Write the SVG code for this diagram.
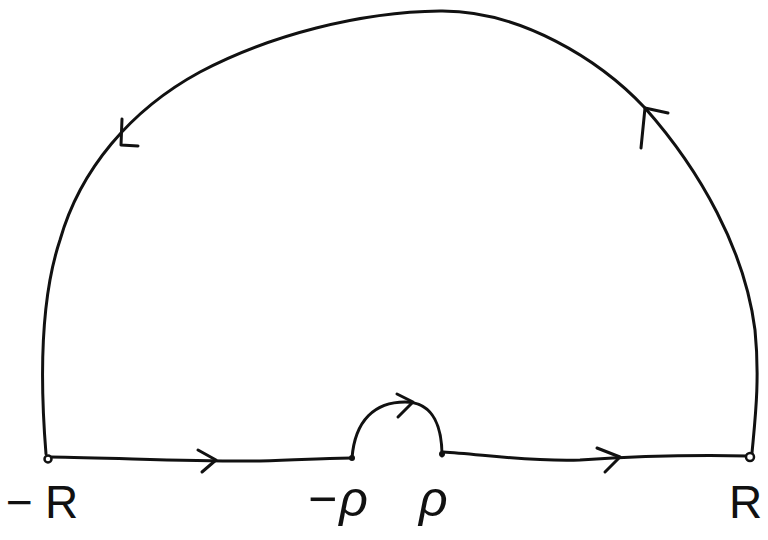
<svg xmlns="http://www.w3.org/2000/svg" width="768" height="540" viewBox="0 0 768 540">
<style>
.c{fill:none;stroke:#111;stroke-width:3;stroke-linecap:round;stroke-linejoin:round}
.a{fill:none;stroke:#111;stroke-width:3;stroke-linecap:round;stroke-linejoin:round}
.lbl{font-family:"Liberation Sans",Arial,sans-serif;fill:#111}
.dot{fill:#111}
.ring{fill:#fff;stroke:#111;stroke-width:2.5}
</style>
<rect width="768" height="540" fill="#fff"/>
<g id="connectors">
<path class="c" d="M50,457 C120,458 200,462 260,461 C300,460 330,458 352,458"/>
<polyline class="a" points="198,450 216,460 202,472"/>
<path class="c" d="M352,458 C355,420 375,402 405,402 C435,402 442,430 442,456"/>
<polyline class="a" points="397,394 413,402 398,417"/>
<path class="c" d="M443,452 C480,454 530,462 580,460 C640,456 700,455 748,456"/>
<polyline class="a" points="597,448 620,457 605,472"/>
<path class="c" d="M752,453 C755,420 760,380 755,330 C745,250 700,170 645,108 C600,60 520,10 440,11 C360,12 270,35 200,72 C130,110 80,170 60,240 C40,300 40,380 46,454"/>
<polyline class="a" points="668,113 645,108 641,148"/>
<polyline class="a" points="122,119 121,145 138,146"/>
</g>
<g id="node-minus-R">
<circle class="ring" cx="48" cy="459" r="3.5"/>
<text class="lbl" x="6" y="518" font-size="46">−<tspan dx="12">R</tspan></text>
</g>
<g id="node-minus-rho">
<circle class="dot" cx="352" cy="458" r="3"/>
<text class="lbl" x="308" y="516" font-size="50">−<tspan font-style="italic" dx="2">ρ</tspan></text>
</g>
<g id="node-rho">
<circle class="dot" cx="442" cy="454" r="3"/>
<text class="lbl" x="419" y="516" font-size="50" font-style="italic">ρ</text>
</g>
<g id="node-R">
<circle class="ring" cx="750" cy="457" r="4"/>
<text class="lbl" x="729" y="518" font-size="46">R</text>
</g>
</svg>
